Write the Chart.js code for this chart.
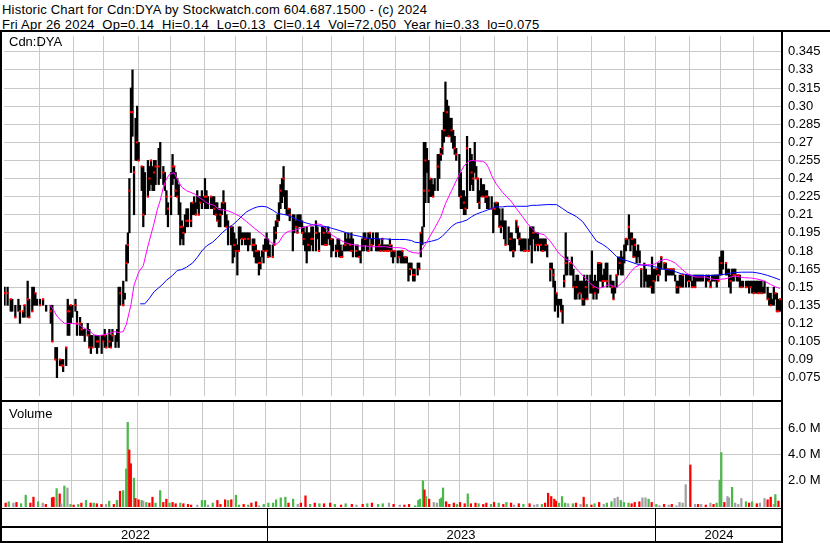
<!DOCTYPE html>
<html>
<head>
<meta charset="utf-8">
<script src="https://cdn.jsdelivr.net/npm/chart.js@4.4.1/dist/chart.umd.min.js"></script>
<style>
  body { margin: 0; background: #fff; }
  #wrap { position: relative; width: 830px; height: 543px; overflow: hidden; background: #fff;
          font-family: "Liberation Sans", Arial, Helvetica, sans-serif; color: #000; }
  .txt { position: absolute; font-size: 13px; line-height: 15px; white-space: pre; }
  .line { position: absolute; background: #000; }
  #pricebox { position: absolute; left: 0; top: 32px; width: 830px; height: 368px; }
  #volbox { position: absolute; left: 0; top: 402px; width: 830px; height: 105px; }
</style>
</head>
<body>
<div id="wrap">
  <div class="txt" style="left:2px;top:1.5px;letter-spacing:0.2px">Historic Chart for Cdn:DYA by Stockwatch.com 604.687.1500 - (c) 2024</div>
  <div class="txt" style="left:2px;top:16.5px;letter-spacing:0.25px">Fri Apr 26 2024  Op=0.14  Hi=0.14  Lo=0.13  Cl=0.14  Vol=72,050  Year hi=0.33  lo=0.075</div>
  <div id="pricebox"><canvas id="price"></canvas></div>
  <div id="volbox"><canvas id="vol"></canvas></div>
  <div class="txt" style="left:9px;top:33.6px">Cdn:DYA</div>
  <div class="txt" style="left:9px;top:406px">Volume</div>
  <div class="line" style="left:0;top:30px;width:830px;height:2px"></div>
  <div class="line" style="left:0;top:30px;width:2px;height:513px"></div>
  <div class="line" style="left:781px;top:30px;width:2px;height:513px"></div>
  <div class="line" style="left:0;top:400px;width:783px;height:2px"></div>
  <div class="line" style="left:0;top:508px;width:783px;height:1px"></div>
  <div class="line" style="left:0;top:526px;width:783px;height:2px"></div>
  <div class="line" style="left:0;top:541px;width:783px;height:2px"></div>
  <div id="band"></div>
</div>
<script>
// trading day (0 = Apr 26 2022) for each daily bar
const days = [
  1,3,5,6,8,10,11,13,14,16,17,19,20,21,22,24,26,28,31,32,34,35,37,38,39,41,42,43,44,45,47,48,50,51,52,53,55,56,57,58,60,61,62,64,65,66,67,69,70,71,73,74,75,76,78,79,80,81,82,83,84,85,86,87,88,90,91,92,94,95,96,97,98,99,
  101,102,104,105,106,107,109,110,111,112,113,114,115,116,117,118,119,120,122,123,124,125,126,127,128,129,130,131,132,133,135,136,137,138,139,140,141,142,143,144,145,146,148,149,150,151,152,153,154,155,156,157,158,159,160,162,163,164,165,166,167,168,169,170,171,172,173,175,176,177,178,179,180,181,182,183,184,185,186,188,189,190,191,192,193,194,195,196,197,198,199,200,
  201,203,204,205,207,208,209,210,211,212,213,214,216,217,218,219,220,221,222,223,224,225,226,227,229,230,231,232,233,234,235,236,237,238,239,240,242,243,244,245,246,247,248,249,250,251,252,253,254,256,257,258,259,260,261,262,263,264,265,266,267,269,270,271,272,273,274,275,276,277,278,279,280,282,283,284,285,286,287,288,289,290,291,292,293,294,296,297,298,299,300,
  301,303,304,305,306,307,308,309,310,311,312,313,314,315,317,318,319,320,321,322,323,324,325,326,328,329,330,331,332,333,334,335,336,337,338,339,341,342,343,344,345,346,347,348,349,350,351,352,353,355,356,357,358,359,360,361,362,363,364,365,366,368,369,370,371,372,373,374,375,376,377,378,379,381,382,383,384,385,386,387,388,389,390,391,392,394,395,396,397,398,399,400,401,
  402,403,404,405,406,407,408,409,410,411,412,413,414,416,417,418,419,420,421,422,423,424,425,426,427,429,430,431,432,433,434,435,436,437,438,439,440,441,443,444,445,446,447,448,449,450,451,452,453,454,456,457,458,459,460,461,462,463,464,465,466,467,469,470,471,472,473,474,475,476,477,478,479,480,482,483,484,485,486,487,488,489,490,491,492,493,494,496,497,498,499,500,501,502,503,504
];
const highs = [
  .150,.150,.140,.140,.135,.140,.135,.130,.135,.155,.140,.150,.150,.145,.140,.140,.140,.135,.135,.135,.100,.100,.090,.090,.090,.100,.140,.135,.135,.135,.140,.130,.125,.120,.115,.115,.120,.115,.110,.110,.110,.110,.110,.110,.110,.115,.110,.115,.110,.115,.110,.115,.150,.150,.155,.145,.185,.195,.240,.315,.330,.250,.290,.300,.270,.250,.250,.245,.255,.250,.255,.250,.255,.255,
  .265,.270,.250,.245,.230,.220,.245,.260,.250,.245,.240,.235,.220,.205,.200,.210,.215,.215,.220,.220,.225,.220,.230,.225,.225,.230,.225,.240,.230,.225,.225,.225,.225,.220,.220,.215,.215,.220,.230,.220,.210,.205,.200,.200,.195,.190,.185,.200,.200,.195,.195,.195,.195,.195,.195,.190,.190,.185,.180,.180,.175,.180,.185,.190,.195,.190,.185,.185,.200,.205,.210,.220,.235,.240,.250,.230,.230,.215,.215,.210,.210,.205,.210,.210,.210,.205,.200,.195,.200,.195,.195,.200,
  .200,.205,.200,.195,.200,.200,.200,.195,.200,.195,.190,.190,.185,.190,.190,.185,.180,.185,.195,.190,.195,.190,.195,.190,.185,.185,.180,.180,.190,.195,.195,.190,.195,.195,.190,.195,.195,.195,.190,.185,.190,.185,.185,.185,.185,.190,.185,.180,.180,.180,.180,.180,.180,.175,.175,.175,.170,.170,.170,.165,.165,.170,.170,.195,.200,.270,.270,.265,.255,.240,.240,.235,.240,.260,.260,.265,.280,.295,.320,.305,.300,.290,.290,.280,.275,.265,.260,.245,.230,.230,.225,
  .275,.265,.260,.255,.270,.250,.240,.230,.240,.235,.235,.230,.230,.225,.225,.215,.220,.220,.220,.215,.205,.215,.205,.205,.200,.195,.195,.190,.190,.205,.200,.195,.190,.190,.190,.190,.190,.200,.200,.200,.195,.195,.195,.190,.190,.190,.190,.190,.185,.170,.170,.165,.155,.145,.140,.140,.140,.135,.160,.195,.175,.170,.175,.165,.155,.160,.160,.155,.155,.155,.160,.155,.160,.160,.180,.155,.160,.155,.170,.170,.170,.160,.165,.170,.170,.160,.155,.155,.150,.160,.175,.175,.180,
  .175,.185,.190,.190,.210,.195,.195,.190,.190,.180,.185,.180,.165,.170,.165,.160,.160,.160,.175,.165,.165,.165,.170,.170,.175,.170,.170,.165,.165,.165,.165,.165,.160,.155,.155,.160,.160,.160,.160,.160,.160,.160,.155,.160,.160,.160,.160,.160,.160,.160,.160,.160,.160,.155,.160,.160,.160,.160,.160,.175,.180,.180,.170,.165,.165,.160,.165,.165,.165,.160,.160,.160,.155,.155,.155,.155,.155,.155,.155,.155,.155,.155,.155,.155,.155,.150,.155,.150,.145,.145,.140,.150,.145,.145,.140,.140
];
const lows = [
  .135,.135,.130,.130,.125,.130,.120,.125,.125,.125,.125,.130,.135,.135,.135,.135,.135,.130,.120,.105,.090,.075,.085,.085,.080,.085,.110,.110,.120,.125,.130,.110,.110,.110,.110,.105,.110,.100,.095,.100,.100,.095,.100,.095,.105,.100,.100,.100,.100,.105,.100,.105,.100,.135,.135,.140,.155,.170,.195,.245,.275,.210,.255,.255,.255,.230,.200,.210,.225,.230,.235,.230,.230,.235,
  .235,.240,.235,.230,.210,.200,.210,.235,.240,.225,.225,.210,.185,.190,.185,.195,.200,.200,.200,.210,.210,.210,.215,.210,.220,.215,.220,.215,.215,.215,.215,.215,.210,.210,.205,.200,.200,.210,.215,.200,.200,.185,.185,.170,.175,.180,.160,.180,.190,.185,.190,.185,.185,.180,.185,.180,.175,.170,.170,.160,.165,.175,.170,.180,.180,.175,.175,.175,.185,.190,.200,.205,.215,.220,.225,.215,.210,.210,.205,.180,.195,.200,.195,.200,.200,.195,.185,.180,.170,.180,.180,.185,
  .180,.180,.190,.180,.185,.185,.185,.185,.190,.185,.175,.180,.175,.180,.175,.175,.175,.180,.180,.180,.180,.180,.180,.175,.175,.175,.175,.170,.180,.180,.185,.180,.180,.190,.180,.185,.180,.180,.180,.180,.180,.180,.180,.180,.180,.180,.175,.170,.175,.170,.175,.170,.170,.170,.170,.170,.155,.160,.165,.155,.155,.160,.165,.175,.185,.200,.220,.245,.220,.225,.225,.225,.230,.230,.240,.255,.260,.270,.275,.275,.275,.275,.270,.265,.260,.255,.225,.215,.215,.210,.210,
  .215,.230,.235,.230,.245,.240,.220,.215,.225,.225,.225,.220,.215,.215,.215,.195,.210,.210,.210,.200,.195,.200,.190,.185,.185,.180,.180,.175,.180,.195,.190,.185,.180,.180,.180,.180,.180,.185,.170,.190,.180,.185,.180,.185,.180,.180,.180,.180,.175,.155,.165,.150,.130,.135,.125,.135,.130,.120,.150,.160,.160,.160,.160,.150,.140,.140,.145,.140,.145,.135,.135,.140,.140,.145,.145,.140,.145,.140,.145,.155,.155,.150,.155,.155,.150,.150,.145,.140,.145,.150,.160,.165,.160,
  .160,.170,.180,.185,.190,.180,.185,.175,.175,.170,.175,.170,.150,.150,.155,.150,.150,.150,.145,.145,.155,.160,.155,.160,.165,.165,.155,.160,.160,.160,.160,.160,.155,.145,.145,.150,.150,.150,.150,.155,.150,.155,.150,.150,.150,.155,.155,.155,.155,.155,.150,.155,.155,.150,.155,.155,.155,.150,.155,.160,.160,.165,.160,.160,.150,.145,.155,.155,.160,.155,.155,.150,.150,.150,.150,.150,.145,.150,.145,.145,.145,.145,.145,.145,.145,.145,.145,.140,.135,.135,.135,.135,.140,.130,.130,.130
];
const closes = [
  .145,.145,.140,null,.125,null,.130,.130,.135,.140,.125,.130,null,.145,null,.135,.140,null,.130,.105,.090,null,.090,.085,.085,.100,.130,.130,.135,null,.135,.120,.120,.115,null,null,.110,.100,null,.100,null,.105,.105,null,.105,.110,.100,.105,.100,.110,null,null,null,.145,.135,null,.170,.185,.230,.295,.295,.245,null,.270,.255,.250,.210,null,.225,.240,.255,null,.245,.250,
  .250,null,.245,.235,.225,.215,.225,.250,.250,.230,.225,null,.200,.200,.195,null,.205,.205,.205,.220,null,.210,null,.210,.220,null,null,.225,.225,null,.225,null,.215,.210,.205,null,.210,null,.220,null,.200,null,.200,null,.185,.180,null,.180,null,.190,null,.190,null,.190,null,.185,.185,.180,.180,.170,.170,null,.180,null,.180,.175,null,.175,.185,.195,.205,null,.230,null,.240,null,null,.215,.210,null,null,.200,.195,null,null,.195,.190,null,null,.185,null,.190,
  .190,.195,null,.180,null,.195,.185,.185,.195,null,.190,null,.180,.180,null,.175,.175,null,.185,null,null,.185,.180,null,.180,null,.175,null,null,null,.190,null,.180,.195,.185,null,null,null,.185,.180,.190,.180,null,.180,.180,.185,.180,null,.180,null,.175,null,.180,null,.175,null,null,.165,null,.160,.160,null,.165,.195,null,.230,.255,null,.230,.240,null,.225,null,.250,null,.260,.265,.280,null,.295,.275,null,.280,null,.265,.260,null,.225,null,.220,.215,
  .265,null,.245,.240,null,.240,.240,.220,null,.225,null,.225,.225,null,.215,null,.215,.220,null,.200,.200,null,null,.185,null,.190,null,.180,null,.205,.200,.190,null,null,.180,.180,.180,null,null,.195,null,.185,.185,null,.185,.180,null,.185,null,.165,null,.160,null,.145,null,null,.130,null,.155,.170,null,.170,null,.150,null,.150,null,.145,null,.140,null,.150,.140,null,null,.150,.145,null,.170,.170,null,.155,.155,null,.155,null,.150,.140,null,.160,null,.170,null,
  null,null,.190,null,.200,null,.190,.175,.185,null,null,null,.165,null,null,null,null,.150,null,.155,null,.165,.160,null,.175,.170,null,.165,null,.165,null,.165,null,.150,null,.150,null,.160,null,null,.155,null,.150,null,.150,null,null,null,null,null,null,null,.155,.150,null,null,null,null,.155,null,.170,null,.170,null,null,.155,null,.160,.160,null,.160,null,.150,null,.150,null,null,.150,null,.145,null,null,.145,null,.145,null,null,.140,null,.135,null,null,.145,.130,.130,.140
];

// moving averages
const fastMaDays = [30,32,35,38,40,45,49,52,56,59,62,65,69,72,75,78,80,83,85,88,91,94,98,100,102,104,106,108,111,113,116,119,124,127,130,133,137,140,143,146,150,154,158,163,167,171,174,177,179,182,185,189,193,197,201,204,207,210,213,218,222,226,231,235,239,244,248,252,257,261,263,266,270,272,274,277,280,284,287,291,296,299,302,304,311,313,315,317,320,324,327,330,333,337,340,343,346,351,355,358,361,365,368,371,374,378,381,384,386,390,393,396,398,401,404,407,410,413,417,420,423,426,430,433,436,439,443,446,449,452,456,459,462,465,469,472,475,478,481,485,488,491,494,498,501,504];
const fastMa = [.1354,.1327,.126,.1219,.12,.12,.1192,.1165,.1138,.1105,.1097,.1105,.1116,.1132,.1124,.1132,.1192,.1354,.1516,.1624,.1678,.184,.203,.2138,.2219,.2327,.2395,.2435,.2449,.2395,.2327,.23,.2273,.2246,.2219,.2192,.2178,.2143,.2138,.2132,.2111,.2084,.2043,.1989,.1949,.1908,.1868,.1854,.1873,.1935,.1962,.197,.1989,.2003,.2016,.2024,.2016,.1976,.1935,.1895,.1868,.1854,.1841,.1841,.1835,.1835,.1835,.1827,.1827,.1819,.18,.1786,.1781,.1814,.1854,.1922,.1989,.2084,.2192,.23,.2435,.2503,.2543,.2549,.2543,.253,.2489,.2422,.2354,.2286,.2246,.2205,.2151,.2084,.203,.1989,.1949,.1935,.1881,.1827,.1773,.1732,.1719,.1665,.1624,.157,.153,.1503,.1489,.1503,.1522,.1508,.1495,.153,.157,.1624,.1665,.1684,.1686,.1686,.1692,.1719,.1732,.1719,.17,.1665,.1619,.1597,.1584,.1584,.1584,.157,.1562,.1565,.157,.1584,.1592,.1584,.1578,.1576,.157,.1562,.1549,.1522,.1503,.1489];
const slowMaDays = [89,92,95,98,101,103,106,110,113,116,119,123,126,129,132,136,139,142,145,149,152,155,158,162,165,168,171,175,178,181,184,187,191,194,197,200,205,209,213,218,222,226,231,235,239,244,248,252,257,261,265,267,270,272,275,278,282,285,288,291,294,298,301,304,307,311,314,317,320,324,327,333,340,343,346,353,359,363,366,369,372,376,379,382,385,389,392,395,398,401,405,408,411,414,418,421,424,427,431,434,437,440,444,447,453,460,466,470,473,479,486,489,492,496,499,502,504];
const slowMa = [.1362,.1362,.1408,.1462,.1495,.1516,.1557,.1597,.1638,.1646,.1665,.17,.1746,.18,.1841,.1873,.1908,.1949,.1981,.2016,.2051,.2089,.2124,.2151,.2165,.217,.2165,.2138,.2111,.2105,.2097,.2084,.2057,.2043,.203,.202,.2008,.2003,.1989,.197,.1954,.1935,.1922,.1908,.1903,.19,.19,.1895,.1895,.1895,.1886,.1873,.1868,.1862,.1873,.1881,.1895,.1922,.1962,.2003,.203,.2043,.2057,.2084,.2105,.2124,.2138,.2151,.2165,.2165,.217,.217,.217,.2178,.2178,.2184,.2184,.2151,.2124,.2105,.2084,.2043,.1989,.1935,.1881,.1854,.1827,.1792,.1754,.1732,.1719,.1705,.1692,.1684,.1678,.1673,.1665,.1651,.1646,.1638,.1624,.1611,.1603,.1597,.1597,.1597,.1603,.1611,.1619,.1624,.1624,.1619,.1611,.1597,.1584,.157,.156];

// volume, millions of shares; u = up day, d = down day, n = unchanged
const volDays = [3,5,8,10,13,16,19,21,24,27,29,33,34,36,38,39,41,43,45,47,50,52,55,58,60,62,65,68,70,73,75,77,79,81,82,83,84,86,87,89,91,92,94,96,98,100,103,105,107,109,111,113,116,118,121,123,127,130,132,134,137,140,142,145,147,149,152,154,157,160,162,165,167,170,173,176,178,181,184,186,189,192,194,197,200,203,206,209,213,216,220,223,227,230,234,237,240,244,247,251,254,258,261,264,268,270,271,273,274,275,277,280,282,284,285,286,288,290,293,295,297,300,302,304,307,309,312,314,317,319,322,325,327,330,332,335,338,342,345,347,350,352,354,356,358,359,361,363,365,367,370,372,375,377,379,382,384,387,390,392,395,397,399,401,403,406,408,410,413,415,417,419,421,424,426,429,432,434,437,439,441,443,446,449,451,453,456,459,461,463,465,466,468,470,471,473,475,477,479,482,484,486,489,491,494,496,498,500,501,503];
const volumes = [.3,.4,.3,.35,.25,.9,.3,.75,.4,.3,.2,.7,.75,1.4,1.0,.25,1.6,1.45,.2,.15,.2,.3,.5,.3,.3,.25,.2,.2,.45,.2,.5,1.2,1.25,2.9,6.45,4.35,3.3,2.2,.65,.55,.5,.45,.35,.3,.75,.3,1.25,.35,.6,.3,.35,.25,.3,.25,.2,.15,.15,.5,.5,.15,.3,.5,.2,.55,.5,.55,.9,.15,.2,.15,.3,.4,.1,.2,.3,.3,.55,.7,.75,.3,.6,.2,.3,.85,.2,.3,.25,.25,.3,.2,.15,.25,.2,.15,.2,.25,.3,.2,.25,.3,.2,.15,.15,.2,.1,.5,.6,2.0,1.3,.8,.6,.35,.3,.6,.7,1.45,.4,.2,.3,.2,.35,.25,1.0,.25,.3,.25,.2,.3,.2,.35,.3,.2,.35,.3,.15,.25,.2,.25,.15,.2,.2,.3,1.05,.8,.6,.45,.3,.8,.3,.25,.25,.3,.2,.75,.2,.15,.25,.35,.2,.3,.4,.65,.75,.5,.35,.3,.25,.35,.4,.7,.7,.6,.35,.2,.1,.2,.15,.2,.1,.35,.3,1.7,3.2,.2,.2,.2,.15,.3,.2,.3,2.05,4.15,.35,.8,.7,1.5,.3,.2,.65,.4,.3,.4,.25,.3,.65,.55,.75,.2,.95,.45];
const volMoves = ['d','u','n','d','u','u','d','d','u','n','d','d','d','u','d','n','u','n','u','d','u','d','u','d','u','d','d','n','u','d','u','d','u','u','u','d','d','u','d','d','u','n','u','d','d','u','u','d','d','u','d','d','u','d','d','d','n','u','u','n','u','d','d','d','u','d','u','u','d','u','d','d','n','u','u','u','u','u','u','d','u','n','d','d','u','d','u','d','d','u','d','u','d','n','d','u','d','u','u','n','d','n','d','d','u','u','u','u','d','u','d','n','n','u','u','u','d','d','d','u','d','d','u','d','d','u','d','d','u','d','u','d','u','d','n','d','u','d','n','n','u','d','d','d','d','d','u','u','u','n','u','d','n','d','u','d','u','d','n','u','u','n','n','u','u','u','d','d','d','n','n','u','d','u','n','d','n','d','n','n','n','n','d','n','d','n','d','n','d','u','u','u','d','n','n','u','n','n','n','u','d','u','d','n','n','d','d','n','u','d'];

const priceTicks = [0.075,0.09,0.105,0.12,0.135,0.15,0.165,0.18,0.195,0.21,0.225,0.24,0.255,0.27,0.285,0.30,0.315,0.33,0.345];
const volumeTicks = [2,4,6];
const monthStarts = [24,45.5,65.5,88,108.5,130.5,150.5,171,194,213,234,254.5,276.5,296.5,318.5,340.5,360,381.5,403,423,445.5,465.5,486.5];
const yearStarts = [171,423];
const yearLabels = ['2022','2023','2024'];

const FONT = "'Liberation Sans', Arial, Helvetica, sans-serif";
const GRID = '#c8c8c8';
Chart.defaults.font.family = FONT;
Chart.defaults.font.size = 13;
Chart.defaults.color = '#000';

function xAxis() {
  return {
    type: 'linear', min: 0.65, max: 505.95, offset: false, bounds: 'data',
    afterBuildTicks: s => { s.ticks = monthStarts.map(v => ({ value: v })); },
    ticks: { display: false },
    grid: { color: GRID, drawTicks: false, offset: false },
    border: { display: false },
    afterFit: s => { s.height = 0; s.paddingLeft = 0; s.paddingRight = 0; }
  };
}

function rightAxis(min, max, tickValues, fmt) {
  return {
    position: 'right', min: min, max: max, bounds: 'data',
    afterBuildTicks: s => { s.ticks = tickValues.map(v => ({ value: v })); },
    ticks: { padding: 5, autoSkip: false, callback: fmt },
    grid: { color: GRID, drawTicks: false },
    border: { display: false },
    afterFit: s => { s.width = 47; s.paddingTop = 0; s.paddingBottom = 0; }
  };
}

const common = {
  responsive: true, maintainAspectRatio: false, animation: false, events: [],
  layout: { padding: { left: 2, right: 0, top: 0, bottom: 0 } },
  plugins: { legend: { display: false }, tooltip: { enabled: false } }
};

const priceChart = new Chart('price', {
  type: 'bar',
  data: {
    datasets: [
      { type: 'line', data: fastMaDays.map((d, i) => ({ x: d, y: fastMa[i] })), borderColor: '#ff00ff', borderWidth: 1, pointRadius: 0, tension: 0, order: 0 },
      { type: 'line', data: slowMaDays.map((d, i) => ({ x: d, y: slowMa[i] })), borderColor: '#0000ff', borderWidth: 1, pointRadius: 0, tension: 0, order: 0 },
      { type: 'line', data: days.map((d, i) => ({ x: d, y: closes[i] })).filter(p => p.y !== null), showLine: false,
        pointStyle: 'rect', pointRadius: 1.5, pointBorderWidth: 0, pointBackgroundColor: '#ff0000', order: 1 },
      { type: 'bar', data: days.map((d, i) => ({ x: d, y: [lows[i], highs[i]] })), backgroundColor: '#000', barThickness: 1.6, order: 2 }
    ]
  },
  options: Object.assign({}, common, {
    scales: {
      x: xAxis(),
      y: rightAxis(0.0598, 0.3581, priceTicks, v => { let s = v.toFixed(3); return s.endsWith('0') ? s.slice(0, -1) : s; })
    }
  })
});

const moveColor = { u: '#4cb84c', d: '#ff0000', n: '#a0a0a0' };
new Chart('vol', {
  type: 'bar',
  data: {
    datasets: [{
      data: volDays.map((d, i) => ({ x: d, y: volumes[i] })),
      backgroundColor: volMoves.map(m => moveColor[m]),
      barThickness: 1.6
    }]
  },
  options: Object.assign({}, common, {
    scales: {
      x: xAxis(),
      y: rightAxis(0, 8, volumeTicks, v => v.toFixed(1) + ' M')
    }
  })
});

// year band under the volume panel
const xs = priceChart.scales.x;
const band = document.getElementById('band');
const edges = [xs.left].concat(yearStarts.map(d => Math.round(xs.getPixelForValue(d))), [xs.right]);
yearLabels.forEach((lab, i) => {
  const t = document.createElement('div');
  t.className = 'txt';
  t.textContent = lab;
  t.style.left = edges[i] + 'px';
  t.style.width = (edges[i + 1] - edges[i]) + 'px';
  t.style.textAlign = 'center';
  t.style.top = '527.3px';
  band.appendChild(t);
});
yearStarts.forEach(d => {
  const l = document.createElement('div');
  l.className = 'line';
  l.style.left = Math.round(xs.getPixelForValue(d)) + 'px';
  l.style.top = '508px';
  l.style.width = '1px';
  l.style.height = '34px';
  band.appendChild(l);
});
</script>
</body>
</html>
